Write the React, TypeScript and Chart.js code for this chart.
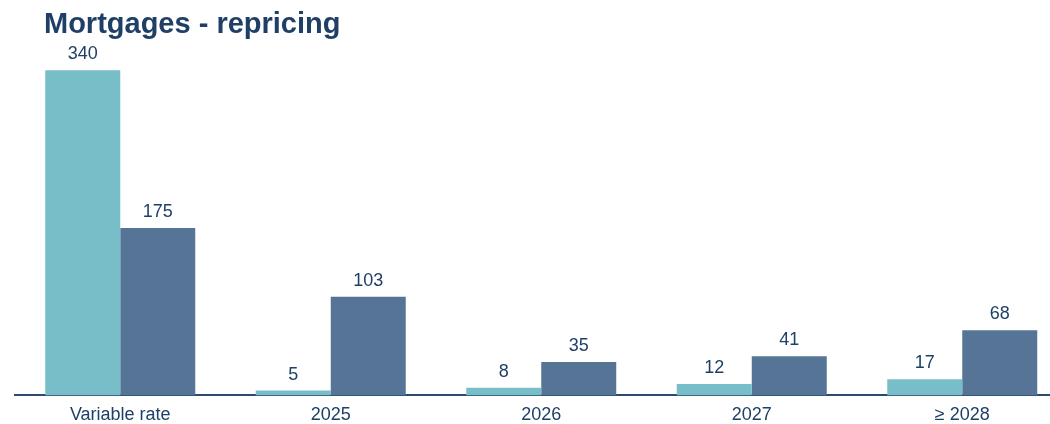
import React, { useEffect, useRef } from "react";
import { Chart, registerables } from "chart.js";

Chart.register(...registerables);

const categories = ["Variable rate", "2025", "2026", "2027", "≥ 2028"];
const seriesA = [340, 5, 8, 12, 17];
const seriesB = [175, 103, 35, 41, 68];
const title = "Mortgages - repricing";

const TEAL = "#78bec9";
const SLATE = "#567496";
const NAVY = "#1f3f66";
const FONT = "'Liberation Sans', Arial, sans-serif";

export default function App() {
  const ref = useRef<HTMLCanvasElement | null>(null);
  useEffect(() => {
    if (!ref.current) return;
    const labelsPlugin = {
      id: "customLabels",
      afterDatasetsDraw(chart: any) {
        const ctx = chart.ctx;
        ctx.save();
        ctx.font = `18px ${FONT}`;
        ctx.fillStyle = NAVY;
        ctx.textAlign = "center";
        ctx.textBaseline = "middle";
        chart.data.datasets.forEach((ds: any, i: number) => {
          const meta = chart.getDatasetMeta(i);
          meta.data.forEach((el: any, j: number) => {
            ctx.fillText(String(ds.data[j]), el.x, el.y - 16);
          });
        });
        ctx.font = `bold 29px ${FONT}`;
        ctx.textAlign = "left";
        ctx.textBaseline = "alphabetic";
        ctx.fillText(title, 44, 33);
        ctx.restore();
      },
    };
    const chart = new Chart(ref.current, {
      type: "bar",
      data: {
        labels: categories,
        datasets: [
          { data: seriesA, backgroundColor: TEAL, borderWidth: 0 },
          { data: seriesB, backgroundColor: SLATE, borderWidth: 0 },
        ],
      },
      options: {
        animation: false,
        responsive: false,
        layout: { padding: { left: 15, right: 2.5, top: 51, bottom: 0 } },
        datasets: {
          bar: { categoryPercentage: 0.7126, barPercentage: 1 },
        } as any,
        plugins: {
          legend: { display: false },
          tooltip: { enabled: false },
          title: { display: false },
        },
        scales: {
          x: {
            grid: { display: false, drawTicks: false },
            border: { display: true, color: "#2a4a6e", width: 2 },
            ticks: {
              color: NAVY,
              padding: 9,
              font: { family: FONT, size: 18, lineHeight: 1.2 },
              maxRotation: 0,
              autoSkip: false,
            },
          },
          y: {
            display: false,
            min: 0,
            max: 360,
          },
        },
      },
      plugins: [labelsPlugin],
    });
    return () => chart.destroy();
  }, []);
  return (
    <div
      style={{
        position: "fixed",
        left: 0,
        top: 0,
        width: 1050,
        height: 424,
        overflow: "hidden",
        background: "#fff",
      }}
    >
      <canvas
        ref={ref}
        width={1070}
        height={435}
        style={{ display: "block", width: 1070, height: 435 }}
      />
    </div>
  );
}
